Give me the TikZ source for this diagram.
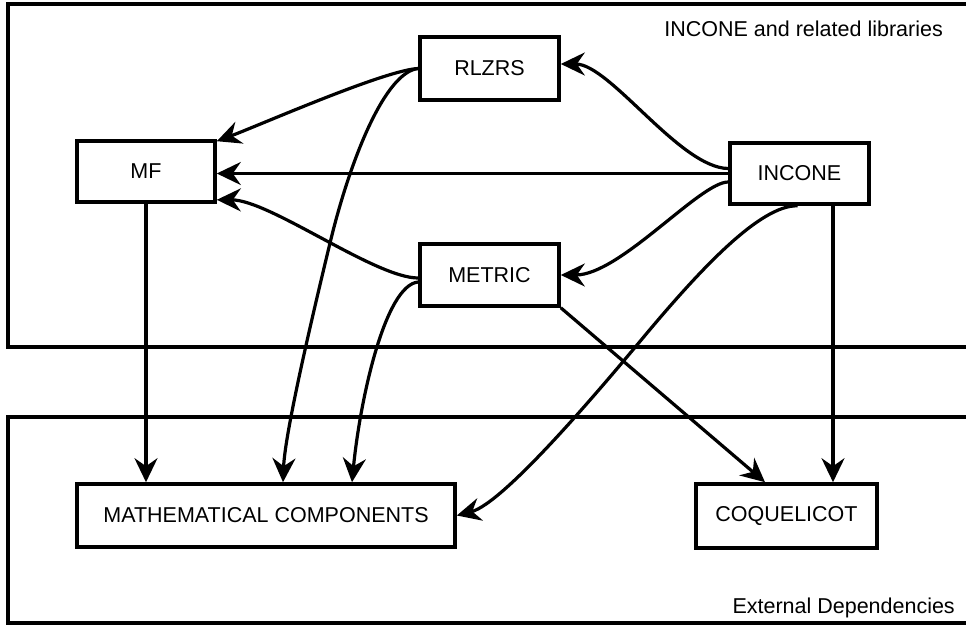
\documentclass[tikz,border=0pt]{standalone}
\usepackage{fontspec}
\setmainfont{Liberation Sans}
\usetikzlibrary{arrows.meta}
\begin{document}
\begin{tikzpicture}[x=1pt,y=-1pt,
  every node/.style={font=\fontsize{21.5}{26}\selectfont},
  box/.style={draw,line width=3.6pt,rectangle,inner sep=0pt,minimum width=139pt,minimum height=62pt},
  container/.style={draw,line width=3.4pt},
  conn/.style={line width=3.2pt,-{Stealth[length=24pt,width=23pt,inset=8pt]}},
  lbl/.style={inner sep=0pt,anchor=base east}]
\clip (0,0) rectangle (966,626);
\fill[white] (0,0) rectangle (966,626);
% containers
\draw[container] (8,4) rectangle (980,347);
\draw[container] (8,417) rectangle (980,623);
\node[lbl] (labtop) at (943,36.7) {INCONE and related libraries};
\node[lbl] (labbot) at (955,613) {External Dependencies};
% nodes
\node[box,minimum width=138pt,minimum height=61pt] (MF) at (146,171.5) {MF};
\node[box,minimum height=63pt] (RLZRS) at (489.5,68.5) {RLZRS};
\node[box] (METRIC) at (489.5,275) {METRIC};
\node[box,minimum height=61pt] (INCONE) at (799.5,173.5) {INCONE};
\node[box,minimum width=181pt,minimum height=64pt] (COQ) at (786.5,516) {COQUELICOT};
\node[box,minimum width=378pt,minimum height=63pt] (MC) at (266,515.5) {MATHEMATICAL COMPONENTS};
% connectors
\draw[conn] (RLZRS.west) .. controls (385,70) and (260,125) .. ([yshift=-2pt]MF.north east);
\draw[conn] (INCONE.west) -- (MF.east |- INCONE.west);
\draw[conn] ([yshift=-3pt]METRIC.west) .. controls (375,278) and (270,200) .. ([yshift=4pt]MF.south east);
\draw[conn] ([yshift=5pt]INCONE.west) .. controls (680,168) and (610,64) .. ([yshift=4.5pt]RLZRS.east);
\draw[conn] ([yshift=-8.5pt]INCONE.west) .. controls (700,182) and (620,275) .. (METRIC.east);
\draw[conn] ([xshift=-2pt]INCONE.south) .. controls (760,205) and (700,270) .. (647,333)
   .. controls (607,381) and (505,503) .. (MC.east);
\draw[conn] ([xshift=33.5pt]INCONE.south) -- ([xshift=33.5pt]INCONE.south |- COQ.north);
\draw[conn] (METRIC.south east) -- ([xshift=-21.5pt]COQ.north);
\draw[conn] (RLZRS.west) .. controls (385,72) and (350,160) .. (330,243)
   .. controls (317,297) and (285,430) .. ([xshift=17pt]MC.north);
\draw[conn] ([yshift=-7pt]METRIC.west) .. controls (385,285) and (360,400) .. ([xshift=86pt]MC.north);
\draw[conn] (MF.south) -- (MF.south |- MC.north);
\end{tikzpicture}
\end{document}
